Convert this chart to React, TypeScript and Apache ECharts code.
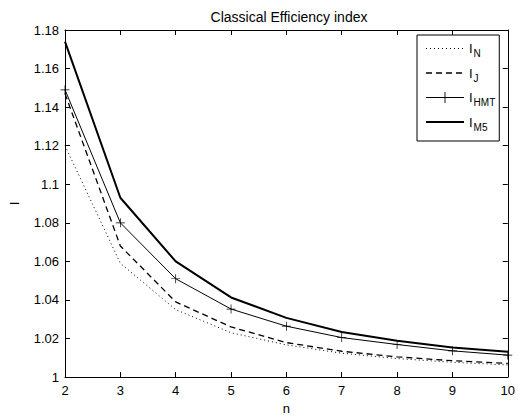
import React, { useEffect, useRef } from "react";
import * as echarts from "echarts";

const nValues = [2, 3, 4, 5, 6, 7, 8, 9, 10];
const iN = [1.12, 1.059, 1.035, 1.023, 1.0167, 1.0124, 1.0096, 1.0077, 1.0063];
const iJ = [1.147, 1.068, 1.039, 1.026, 1.0179, 1.0134, 1.0105, 1.0085, 1.0071];
const iHMT = [1.149, 1.08, 1.051, 1.0353, 1.0264, 1.0205, 1.0169, 1.0136, 1.0114];
const iM5 = [1.174, 1.093, 1.06, 1.0413, 1.0307, 1.0234, 1.0188, 1.0154, 1.0131];
const seriesNames = ["I_N", "I_J", "I_HMT", "I_M5"];
const subscripts = ["N", "J", "HMT", "M5"];

const FONT = "Liberation Sans, Arial, sans-serif";

const pairs = (ys: number[]) => nValues.map((n, i) => [n, ys[i]]);

const hiddenSymbol = {
  symbol: "circle",
  symbolSize: 0,
  showSymbol: false,
  itemStyle: { color: "rgba(0,0,0,0)", borderColor: "rgba(0,0,0,0)", borderWidth: 0 },
};

export default function App() {
  const ref = useRef<HTMLDivElement>(null);
  useEffect(() => {
    if (!ref.current) return;
    const chart = echarts.init(ref.current, undefined, { renderer: "svg" });
    const axisLine = { show: true, lineStyle: { color: "#000", width: 1 } };
    const tick = { show: true, inside: true, length: 5, lineStyle: { color: "#000" } };
    chart.setOption({
      animation: false,
      backgroundColor: "#fff",
      textStyle: { fontFamily: FONT },
      title: {
        text: "Classical Efficiency index",
        left: 284,
        textAlign: "center",
        top: 5,
        textStyle: { fontSize: 14, fontWeight: "normal", color: "#000", fontFamily: FONT },
      },
      grid: { left: 60, right: 9, top: 30, bottom: 36 },
      legend: {
        orient: "vertical",
        left: 417,
        top: 35,
        padding: [7, 4, 9, 8],
        itemGap: 8,
        itemWidth: 38,
        itemHeight: 14,
        borderColor: "#000",
        borderWidth: 1,
        backgroundColor: "#fff",
        data: [
          { name: seriesNames[0], lineStyle: { width: 1 } },
          { name: seriesNames[1], lineStyle: { width: 1.3 } },
          { name: seriesNames[2], lineStyle: { width: 1 } },
          { name: seriesNames[3], lineStyle: { width: 2 } },
        ],
        formatter: (name: string) => "{a|I}{b|" + subscripts[seriesNames.indexOf(name)] + "}",
        textStyle: {
          color: "#000",
          fontFamily: FONT,
          rich: {
            a: { fontSize: 13, fontFamily: FONT, color: "#000" },
            b: { fontSize: 10, fontFamily: FONT, color: "#000", padding: [10, 0, 0, 1] },
          },
        },
      },
      xAxis: [
        {
          type: "value",
          min: 2,
          max: 10,
          interval: 1,
          name: "n",
          nameLocation: "middle",
          nameGap: 20,
          nameTextStyle: { fontSize: 13, color: "#000", fontFamily: FONT },
          axisLine,
          axisTick: tick,
          axisLabel: { color: "#000", fontSize: 13, margin: 7, fontFamily: FONT },
          splitLine: { show: false },
        },
        {
          type: "value",
          position: "top",
          min: 2,
          max: 10,
          interval: 1,
          axisLine,
          axisTick: tick,
          axisLabel: { show: false },
          splitLine: { show: false },
        },
      ],
      yAxis: [
        {
          type: "value",
          min: 1,
          max: 1.18,
          interval: 0.02,
          name: "I",
          nameLocation: "middle",
          nameGap: 44,
          nameTextStyle: { fontSize: 13, color: "#000", fontFamily: FONT },
          axisLine,
          axisTick: tick,
          axisLabel: {
            color: "#000",
            fontSize: 13,
            margin: 6,
            fontFamily: FONT,
            formatter: (v: number) => String(+v.toFixed(2)),
          },
          splitLine: { show: false },
        },
        {
          type: "value",
          position: "right",
          min: 1,
          max: 1.18,
          interval: 0.02,
          axisLine,
          axisTick: tick,
          axisLabel: { show: false },
          splitLine: { show: false },
        },
      ],
      series: [
        {
          name: seriesNames[0],
          type: "line",
          data: pairs(iN),
          ...hiddenSymbol,
          lineStyle: { color: "#000", width: 1, type: [1, 3] },
        },
        {
          name: seriesNames[1],
          type: "line",
          data: pairs(iJ),
          ...hiddenSymbol,
          lineStyle: { color: "#000", width: 1.3, type: [6, 4] },
        },
        {
          name: seriesNames[2],
          type: "line",
          data: pairs(iHMT),
          symbol: "path://M0,4.6H10V5.4H0Z M4.6,0H5.4V10H4.6Z",
          symbolSize: 9,
          lineStyle: { color: "#000", width: 1 },
          itemStyle: { color: "#000" },
        },
        {
          name: seriesNames[3],
          type: "line",
          data: pairs(iM5),
          ...hiddenSymbol,
          lineStyle: { color: "#000", width: 2 },
        },
      ],
    });
    return () => chart.dispose();
  }, []);
  return (
    <div
      ref={ref}
      style={{ position: "fixed", left: 0, top: 0, width: 518, height: 420 }}
    />
  );
}
